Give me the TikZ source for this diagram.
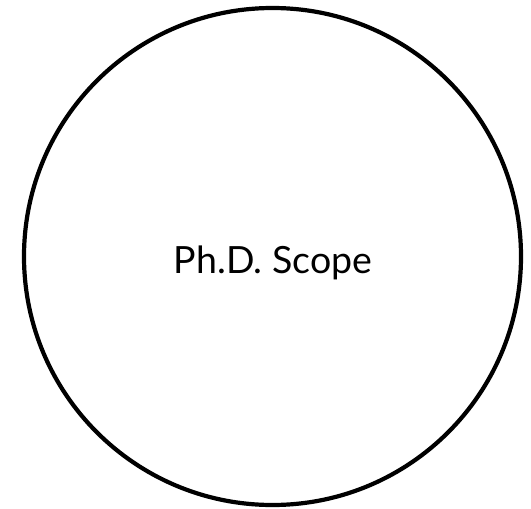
\documentclass[tikz,border=0pt]{standalone}
\usepackage{fontspec}
\setmainfont{Lato}
\begin{document}
\begin{tikzpicture}[x=1pt,y=-1pt,
  scopecircle/.style={draw=black,line width=4.2pt,circle,minimum size=497pt,inner sep=0pt},
  scopelabel/.style={font=\fontsize{37.5}{42}\selectfont,inner sep=0pt}]
\useasboundingbox (0,0) rectangle (531,509);
\node[scopecircle] (c) at (272.5,256.5) {};
\node[scopelabel,anchor=base] (t) at (273,273) {Ph.D. Scope};
\end{tikzpicture}
\end{document}
